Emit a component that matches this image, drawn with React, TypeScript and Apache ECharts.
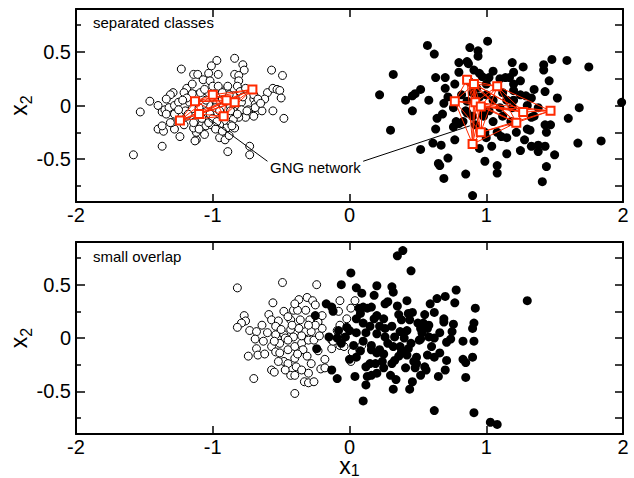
import React, { useEffect, useRef } from 'react';
import * as echarts from 'echarts';

const xMin = -2;
const xMax = 2;
const yMin = -0.9;
const yMax = 0.9;
const yMajor = [-0.5, 0, 0.5];
const yMinor = [-0.75, -0.25, 0.25, 0.75];
const yAll = [-0.75, -0.5, -0.25, 0, 0.25, 0.5, 0.75];

const topWhite = [
  [-0.84,0.44],[-0.97,0.42],[-1.23,0.34],[-1.01,0.37],[-0.78,0.38],[-0.77,0.33],[-1.03,0.30],[-1.14,0.29],[-1.11,0.29],[-1.07,0.24],
  [-0.96,0.29],[-0.84,0.29],[-0.81,0.28],[-0.57,0.33],[-0.49,0.28],[-1.02,0.23],[-0.81,0.23],[-1.00,0.18],[-0.96,0.18],[-0.82,0.18],
  [-1.19,0.16],[-1.21,0.12],[-1.29,0.12],[-1.31,0.10],[-1.34,0.06],[-1.46,0.04],[-1.40,0.00],[-1.53,-0.06],[-1.37,-0.06],[-1.35,-0.04],
  [-1.32,-0.02],[-1.28,0.00],[-1.25,0.03],[-1.12,0.10],[-1.15,0.11],[-0.90,0.15],[-0.60,0.12],[-0.56,0.16],[-0.53,0.15],[-0.51,0.14],
  [-0.50,0.07],[-0.62,0.06],[-0.70,0.06],[-0.69,0.01],[-0.68,-0.05],[-0.64,-0.05],[-0.74,-0.04],[-0.56,-0.05],[-0.48,-0.12],[-0.76,-0.11],
  [-0.81,-0.11],[-0.85,-0.13],[-0.87,-0.18],[-0.84,-0.21],[-0.90,-0.21],[-0.95,-0.18],[-0.95,-0.30],[-0.91,-0.32],[-0.89,-0.43],[-0.73,-0.38],
  [-0.73,-0.46],[-1.06,-0.27],[-1.12,-0.32],[-1.12,-0.25],[-1.24,-0.29],[-1.37,-0.38],[-1.58,-0.46],[-1.40,-0.22],[-1.36,-0.24],[-1.37,-0.19],
  [-1.28,-0.22],[-1.21,-0.18],[-1.13,-0.15],[-1.05,-0.19],[-1.01,-0.18],[-1.30,-0.16],[-1.34,-0.08],[-1.28,-0.08],[-1.20,-0.05],[-1.19,-0.10],
  [-1.25,-0.04],[-1.17,0.03],[-1.07,0.07],[-1.09,0.12],[-0.95,0.09],[-0.90,0.04],[-0.79,0.03],[-0.79,-0.04],[-0.85,-0.05],[-0.92,-0.10],
  [-0.98,-0.08],[-0.87,-0.01],[-0.70,0.10],[-0.80,0.13],[-0.97,0.03],[-1.03,0.01],[-1.14,-0.21],[-1.10,-0.22],[-0.98,-0.22],[-0.93,-0.24],
  [-1.13,-0.33],[-0.89,0.18],[-0.67,0.06],[-0.69,-0.02],[-0.75,-0.05],[-1.31,-0.16],[-1.14,-0.16],[-1.03,-0.16],[-0.86,-0.19],[-0.70,-0.10],
  [-1.19,0.07],[-1.07,0.01],[-0.98,-0.02],[-0.87,-0.05],[-1.02,-0.08],[-0.93,0.06],[-0.85,0.09],[-1.15,-0.03],[-0.76,0.16],[-1.08,-0.12],
  [-1.05,0.05],[-0.95,-0.05],[-1.10,-0.02],[-0.88,0.10],[-1.00,-0.12],[-1.18,-0.08],[-0.82,-0.08],[-0.93,0.12],[-1.22,0.05],[-0.78,0.08],
  [-1.06,0.15],[-0.97,-0.15],[-0.65,0.02],[-1.15,0.20],[-0.88,-0.28]
];

const topBlack = [
  [1.01,0.60],[0.57,0.56],[0.88,0.54],[0.94,0.51],[0.62,0.48],[0.94,0.46],[0.86,0.41],[0.87,0.39],[0.32,0.29],[0.80,0.31],
  [0.91,0.33],[0.97,0.27],[0.63,0.26],[0.70,0.26],[0.77,0.20],[1.02,0.26],[0.52,0.15],[0.48,0.11],[0.46,0.09],[0.41,0.05],
  [0.22,0.10],[0.58,0.05],[0.70,0.16],[0.69,0.02],[0.46,-0.05],[0.76,-0.02],[0.64,-0.12],[0.30,-0.23],[0.63,-0.22],[0.76,-0.20],
  [0.80,-0.17],[0.83,-0.15],[0.77,-0.32],[0.61,-0.35],[0.67,-0.37],[0.52,-0.41],[0.72,-0.49],[0.65,-0.54],[0.66,-0.56],[0.69,-0.68],
  [0.85,-0.64],[0.90,-0.84],[0.99,-0.52],[1.04,-0.38],[1.08,-0.56],[1.08,-0.63],[0.86,-0.07],[0.98,-0.08],[0.99,-0.25],[0.86,0.04],
  [0.90,0.12],[0.93,0.16],[1.19,0.40],[1.27,0.36],[1.20,0.31],[1.42,0.38],[1.48,0.43],[1.59,0.42],[1.75,0.36],[1.42,0.33],
  [1.14,0.26],[1.17,0.26],[1.25,0.23],[1.46,0.23],[1.20,0.14],[1.29,0.09],[1.33,0.07],[1.43,0.13],[1.52,0.07],[1.20,0.05],
  [1.68,-0.02],[1.99,0.03],[1.60,-0.12],[1.33,-0.11],[1.43,-0.18],[1.47,-0.18],[1.30,-0.22],[1.32,-0.23],[1.44,-0.25],[1.28,-0.32],
  [1.33,-0.38],[1.38,-0.37],[1.43,-0.38],[1.38,-0.43],[1.25,-0.42],[1.50,-0.46],[1.67,-0.35],[1.84,-0.33],[1.44,-0.57],[1.41,-0.71],
  [1.11,-0.29],[1.19,-0.02],[1.00,0.10],[1.05,0.05],[1.10,-0.02],[0.98,-0.10],[1.05,-0.15],[1.12,-0.10],[1.15,0.05],[1.00,0.20],
  [0.95,0.30],[1.10,0.25],[1.20,0.20],[0.90,-0.10],[0.85,-0.05],[0.82,0.10],[1.08,-0.25],[1.15,-0.30],[1.00,-0.30],[0.78,-0.15],
  [1.25,0.10],[1.30,0.00],[1.35,-0.10],[0.95,0.08],[1.02,-0.05],[0.92,-0.18],[1.12,0.12],[1.18,-0.15],[0.88,0.22],[1.05,0.32],
  [1.22,-0.25],[0.72,0.08],[0.68,-0.08],[1.35,0.15],[1.38,-0.02],[0.95,-0.40],[1.15,-0.45],[0.80,0.40]
];

const gngLeftNodes = [
  [-1.24,-0.14],[-1.13,0.04],[-1.00,0.10],[-0.71,0.15],[-0.84,0.03],[-0.92,-0.10],[-1.10,-0.08],[-0.90,0.05]
];
const gngLeftEdges = [
  [0,1],[0,6],[0,5],[0,2],[0,7],[0,4],[1,2],[1,6],[1,7],[1,4],[1,3],[2,3],[2,4],[2,7],[2,5],
  [3,4],[3,7],[3,5],[3,6],[4,5],[4,6],[5,6],[5,7],[6,7],[1,5]
];

const gngRightNodes = [
  [0.86,0.24],[1.08,0.18],[0.91,0.20],[0.77,0.04],[0.92,0.03],[0.96,-0.01],[1.27,-0.06],[1.47,-0.05],[1.22,-0.16],[0.96,-0.25],[0.90,-0.36]
];
const gngRightEdges = [
  [0,1],[0,2],[0,3],[0,4],[0,5],[0,9],[0,10],[0,6],[1,2],[1,4],[1,5],[1,6],[1,7],[1,8],[1,9],
  [2,4],[2,5],[2,10],[2,9],[2,6],[3,4],[3,10],[3,9],[3,2],[3,6],[4,5],[4,6],[4,7],[4,8],[4,10],
  [5,6],[5,7],[5,8],[5,9],[5,10],[6,7],[6,8],[7,8],[7,9],[8,9],[8,10],[9,10],[0,8],[2,8]
];

const annotLeft = [[-1.05,-0.10],[-0.60,-0.52]];
const annotRight = [[0.10,-0.52],[0.88,-0.19]];

const bottomWhite = [
  [-0.82,0.47],[-0.49,0.52],[-0.24,0.50],[-0.56,0.33],[-0.37,0.36],[-0.31,0.38],[-0.27,0.35],[-0.25,0.31],[-0.59,0.22],[-0.48,0.25],
  [-0.57,0.17],[-0.52,0.16],[-0.41,0.26],[-0.38,0.26],[-0.32,0.26],[-0.43,0.17],[-0.36,0.17],[-0.29,0.17],[-0.23,0.15],[-0.77,0.21],
  [-0.76,0.16],[-0.79,0.14],[-0.82,0.10],[-0.73,0.07],[-0.68,0.06],[-0.60,0.05],[-0.69,-0.01],[-0.63,-0.03],[-0.54,0.03],[-0.48,0.03],
  [-0.43,0.08],[-0.37,0.09],[-0.32,0.06],[-0.28,0.06],[-0.20,0.09],[-0.68,-0.10],[-0.74,-0.17],[-0.67,-0.16],[-0.57,-0.08],[-0.51,-0.05],
  [-0.54,-0.13],[-0.51,-0.14],[-0.45,-0.11],[-0.40,-0.08],[-0.35,-0.05],[-0.30,-0.02],[-0.26,-0.02],[-0.34,-0.11],[-0.48,-0.22],[-0.45,-0.24],
  [-0.40,-0.19],[-0.31,-0.17],[-0.28,-0.24],[-0.57,-0.30],[-0.55,-0.32],[-0.39,-0.27],[-0.70,-0.38],[-0.43,-0.35],[-0.40,-0.35],[-0.30,-0.33],
  [-0.33,-0.41],[-0.30,-0.42],[-0.26,-0.41],[-0.40,-0.52],[-0.21,-0.29],[-0.18,-0.28],[-0.13,-0.02],[-0.13,-0.10],[-0.08,0.01],[-0.07,0.35],
  [-0.20,0.21],[-0.08,0.25],[-0.07,-0.07],[-0.42,0.12],[-0.54,0.11],[-0.25,0.12],[-0.47,0.00],[-0.41,0.01],[0.04,0.35],[0.01,0.28],
  [-0.02,0.18],[-0.09,0.07],[-0.06,-0.02],[-0.12,-0.03],[-0.04,-0.08],[0.02,-0.13],[0.09,-0.07],[0.01,-0.22],[-0.07,0.12],
  [-0.45,0.20],[-0.50,0.08],[-0.35,0.02],[-0.38,-0.15],[-0.45,-0.02],[-0.55,-0.03],[-0.62,-0.15],[-0.47,-0.30],[-0.35,-0.30],[-0.23,-0.12],
  [-0.22,0.02],[-0.30,0.12],[-0.40,0.32],[-0.64,0.12],[-0.18,-0.20],[-0.52,-0.22]
];

const bottomBlack = [
  [-0.06,0.50],[-0.17,0.32],[-0.13,0.29],[-0.12,0.25],[-0.25,0.21],[-0.15,0.01],[-0.08,0.07],[-0.06,-0.05],[-0.24,-0.10],[-0.13,-0.30],
  [-0.09,-0.38],[0.35,0.77],[0.39,0.82],[0.45,0.63],[0.01,0.61],[0.05,0.47],[0.09,0.42],[0.18,0.40],[0.20,0.49],[0.31,0.48],
  [0.32,0.43],[0.26,0.32],[0.28,0.34],[0.10,0.29],[0.13,0.28],[0.16,0.29],[0.07,0.28],[0.08,0.23],[0.20,0.21],[0.25,0.18],
  [0.18,0.18],[0.36,0.22],[0.43,0.23],[0.46,0.24],[0.38,0.17],[0.44,0.17],[0.50,0.14],[0.54,0.14],[0.58,0.12],[0.52,0.09],
  [0.57,0.09],[0.31,0.11],[0.26,0.09],[0.22,0.11],[0.15,0.11],[0.10,0.14],[0.33,0.01],[0.26,0.01],[0.37,0.06],[0.42,0.07],
  [0.52,-0.01],[0.53,0.05],[0.59,0.32],[0.64,0.37],[0.70,0.39],[0.78,0.45],[0.77,0.33],[0.92,0.28],[0.69,0.18],[0.69,0.15],
  [0.76,0.13],[0.91,0.14],[0.90,0.09],[0.66,0.05],[0.74,-0.01],[0.71,-0.04],[0.83,-0.03],[0.91,-0.03],[0.51,-0.02],[0.58,0.01],
  [0.57,-0.16],[0.66,-0.14],[0.62,-0.18],[0.71,-0.21],[0.83,-0.20],[0.85,-0.23],[0.90,-0.18],[0.55,-0.27],[0.56,-0.30],[0.49,-0.18],
  [0.49,-0.24],[0.42,-0.16],[0.43,-0.10],[0.38,-0.13],[0.36,-0.17],[0.33,-0.21],[0.31,-0.24],[0.41,-0.28],[0.48,-0.28],[0.65,-0.36],
  [0.85,-0.37],[0.46,-0.41],[0.44,-0.48],[0.34,-0.39],[0.32,-0.48],[0.24,-0.22],[0.25,-0.28],[0.20,-0.33],[0.16,-0.35],[0.13,-0.36],
  [0.12,-0.27],[0.15,-0.24],[0.19,-0.24],[0.16,-0.11],[0.16,-0.07],[0.20,-0.14],[0.22,-0.11],[0.10,-0.03],[0.12,-0.44],[0.10,-0.59],
  [0.04,-0.36],[0.05,-0.18],[0.03,-0.07],[-0.02,0.10],[0.00,0.07],[-0.03,0.01],[-0.09,0.00],[0.62,-0.68],[0.91,-0.70],[1.03,-0.79],
  [1.08,-0.81],[1.30,0.35],[0.32,-0.08],[0.37,-0.08],[0.47,-0.22],
  [0.05,0.05],[0.12,0.05],[0.20,0.04],[0.28,-0.05],[0.40,0.00],[0.45,-0.05],[0.60,-0.08],[0.35,0.30],[0.42,0.35],[0.55,0.22],
  [0.62,0.24],[0.25,-0.15],[0.08,-0.12],[0.30,-0.35],[0.52,-0.35],[0.70,-0.30],[0.05,0.18],[0.00,-0.20],[0.62,0.00],[0.75,0.06]
];

const FONT = "'Liberation Sans', Arial, Helvetica, sans-serif";
const RED = '#ff2a00';

const yNameRich = {
  a: { fontSize: 23, fontFamily: FONT, color: '#000', lineHeight: 30, verticalAlign: 'middle' },
  b: { fontSize: 16, fontFamily: FONT, color: '#000', lineHeight: 14, verticalAlign: 'bottom' }
};
const xNameRich = {
  a: { fontSize: 23, fontFamily: FONT, color: '#000', lineHeight: 24, verticalAlign: 'middle' },
  b: { fontSize: 16, fontFamily: FONT, color: '#000', lineHeight: 14, verticalAlign: 'bottom' }
};

function axesFor(gridIndex: number, xName: boolean) {
  const lineStyle = { color: '#000', width: 2 };
  const tickStyle = { color: '#000', width: 1.5 };
  const xAxes = [
    {
      type: 'value', gridIndex, position: 'bottom', min: xMin, max: xMax, interval: 1,
      axisLine: { show: true, onZero: false, lineStyle },
      axisTick: { show: true, inside: true, length: 8, lineStyle: tickStyle },
      axisLabel: { show: true, color: '#000', fontSize: 20, lineHeight: 14, fontFamily: FONT, margin: 6 },
      splitLine: { show: false },
      name: xName ? '{a|x}{b|1}' : '',
      nameLocation: 'middle', nameGap: 20, nameMoveOverlap: false,
      nameTextStyle: { rich: xNameRich }
    },
    {
      type: 'value', gridIndex, position: 'top', min: xMin, max: xMax, interval: 1,
      axisLine: { show: true, onZero: false, lineStyle },
      axisTick: { show: true, inside: true, length: 8, lineStyle: tickStyle },
      axisLabel: { show: false },
      splitLine: { show: false }
    }
  ];
  const yAxes = [
    {
      type: 'value', gridIndex, position: 'left', min: yMin, max: yMax,
      axisLine: { show: true, onZero: false, lineStyle },
      axisTick: { show: true, inside: true, length: 9, customValues: yMajor, lineStyle: tickStyle },
      axisLabel: { show: true, customValues: yMajor, color: '#000', fontSize: 20, fontFamily: FONT, margin: 5 },
      splitLine: { show: false },
      name: '{a|x}{b|2}', nameLocation: 'middle', nameGap: 42, nameRotate: 90, nameMoveOverlap: false,
      nameTextStyle: { rich: yNameRich }
    },
    {
      type: 'value', gridIndex, position: 'left', offset: 0, min: yMin, max: yMax,
      axisLine: { show: false, onZero: false },
      axisTick: { show: true, inside: true, length: 5, customValues: yMinor, lineStyle: tickStyle },
      axisLabel: { show: false },
      splitLine: { show: false }
    },
    {
      type: 'value', gridIndex, position: 'right', min: yMin, max: yMax,
      axisLine: { show: true, onZero: false, lineStyle },
      axisTick: { show: true, inside: true, length: 8, customValues: yAll, lineStyle: tickStyle },
      axisLabel: { show: false },
      splitLine: { show: false }
    }
  ];
  return { xAxes, yAxes };
}

function gngSeries(nodes: number[][], edges: number[][]) {
  return {
    type: 'graph', coordinateSystem: 'cartesian2d', xAxisIndex: 0, yAxisIndex: 0,
    layout: 'none', silent: true,
    symbol: 'rect', symbolSize: 8,
    itemStyle: { color: '#fff', borderColor: RED, borderWidth: 2, opacity: 1 },
    lineStyle: { color: RED, width: 1, opacity: 1, curveness: 0 },
    label: { show: false },
    emphasis: { disabled: true },
    data: nodes.map((p) => ({ value: p })),
    links: edges.map((e) => ({ source: e[0], target: e[1] })),
    z: 5
  };
}

export default function App() {
  const ref = useRef<HTMLDivElement>(null);
  useEffect(() => {
    if (!ref.current) return;
    const chart = echarts.init(ref.current, undefined, { renderer: 'svg' });
    const top = axesFor(0, false);
    const bot = axesFor(1, true);
    const whiteStyle = { color: '#fff', borderColor: '#000', borderWidth: 1, opacity: 1 };
    const blackStyle = { color: '#000', opacity: 1 };
    chart.setOption({
      animation: false,
      backgroundColor: '#fff',
      grid: [
        { left: 76, top: 9, width: 547, height: 193, outerBoundsMode: 'none', containLabel: false },
        { left: 76, top: 242, width: 547, height: 192, outerBoundsMode: 'none', containLabel: false }
      ],
      xAxis: [...top.xAxes, ...bot.xAxes],
      yAxis: [...top.yAxes, ...bot.yAxes],
      series: [
        { type: 'scatter', xAxisIndex: 0, yAxisIndex: 0, symbolSize: 8, itemStyle: whiteStyle, data: topWhite, silent: true, z: 2 },
        { type: 'scatter', xAxisIndex: 0, yAxisIndex: 0, symbolSize: 9, itemStyle: blackStyle, data: topBlack, silent: true, z: 2 },
        { type: 'line', xAxisIndex: 0, yAxisIndex: 0, data: annotLeft, symbol: 'none', lineStyle: { color: '#000', width: 1 }, silent: true, z: 3 },
        { type: 'line', xAxisIndex: 0, yAxisIndex: 0, data: annotRight, symbol: 'none', lineStyle: { color: '#000', width: 1 }, silent: true, z: 3 },
        gngSeries(gngLeftNodes, gngLeftEdges),
        gngSeries(gngRightNodes, gngRightEdges),
        { type: 'scatter', xAxisIndex: 2, yAxisIndex: 3, symbolSize: 8, itemStyle: whiteStyle, data: bottomWhite, silent: true, z: 2 },
        { type: 'scatter', xAxisIndex: 2, yAxisIndex: 3, symbolSize: 9, itemStyle: blackStyle, data: bottomBlack, silent: true, z: 2 }
      ],
      graphic: [
        { type: 'text', left: 93, top: 15, style: { text: 'separated classes', fontSize: 15, fontFamily: FONT, fill: '#000' } },
        { type: 'text', left: 93, top: 249, style: { text: 'small overlap', fontSize: 15, fontFamily: FONT, fill: '#000' } },
        { type: 'text', left: 270, top: 160, style: { text: 'GNG network', fontSize: 15, fontFamily: FONT, fill: '#000' } }
      ]
    });
    return () => chart.dispose();
  }, []);
  return <div ref={ref} style={{ position: 'absolute', left: 0, top: 0, width: 634, height: 478 }} />;
}
